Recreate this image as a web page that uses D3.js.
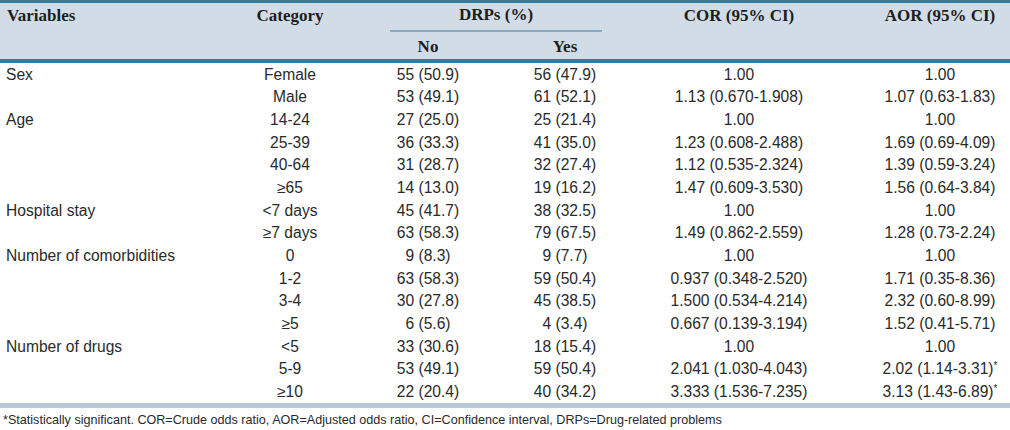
<!DOCTYPE html>
<html>
<head>
<meta charset="utf-8">
<script src="https://cdn.jsdelivr.net/npm/d3@7"></script>
<style>
  html, body { margin: 0; padding: 0; background: #fff; }
  svg { display: block; }
</style>
</head>
<body>
<svg id="chart" width="1010" height="430"></svg>
<script>
// ---- data ----
const variables = ["Sex", "", "Age", "", "", "", "Hospital stay", "", "Number of comorbidities", "", "", "", "Number of drugs", "", ""];
const categories = ["Female", "Male", "14-24", "25-39", "40-64", "≥65", "<7 days", "≥7 days", "0", "1-2", "3-4", "≥5", "<5", "5-9", "≥10"];
const drpNo  = ["55 (50.9)", "53 (49.1)", "27 (25.0)", "36 (33.3)", "31 (28.7)", "14 (13.0)", "45 (41.7)", "63 (58.3)", "9 (8.3)", "63 (58.3)", "30 (27.8)", "6 (5.6)", "33 (30.6)", "53 (49.1)", "22 (20.4)"];
const drpYes = ["56 (47.9)", "61 (52.1)", "25 (21.4)", "41 (35.0)", "32 (27.4)", "19 (16.2)", "38 (32.5)", "79 (67.5)", "9 (7.7)", "59 (50.4)", "45 (38.5)", "4 (3.4)", "18 (15.4)", "59 (50.4)", "40 (34.2)"];
const cor = ["1.00", "1.13 (0.670-1.908)", "1.00", "1.23 (0.608-2.488)", "1.12 (0.535-2.324)", "1.47 (0.609-3.530)", "1.00", "1.49 (0.862-2.559)", "1.00", "0.937 (0.348-2.520)", "1.500 (0.534-4.214)", "0.667 (0.139-3.194)", "1.00", "2.041 (1.030-4.043)", "3.333 (1.536-7.235)"];
const aor = ["1.00", "1.07 (0.63-1.83)", "1.00", "1.69 (0.69-4.09)", "1.39 (0.59-3.24)", "1.56 (0.64-3.84)", "1.00", "1.28 (0.73-2.24)", "1.00", "1.71 (0.35-8.36)", "2.32 (0.60-8.99)", "1.52 (0.41-5.71)", "1.00", "2.02 (1.14-3.31)", "3.13 (1.43-6.89)"];
const significant = [false, false, false, false, false, false, false, false, false, false, false, false, false, true, true];
const headers = ["Variables", "Category", "DRPs (%)", "COR (95% CI)", "AOR (95% CI)"];
const subHeaders = ["No", "Yes"];
const footnote = "*Statistically significant. COR=Crude odds ratio, AOR=Adjusted odds ratio, CI=Confidence interval, DRPs=Drug-related problems";

// ---- layout ----
const W = 1010, H = 430;
const teal = "#367b9e", headBg = "#d2dce6", bottomLine = "#b8c8d7";
const bodyFont = "'Liberation Sans', Arial, Helvetica, sans-serif";
const headFont = "'Liberation Serif', 'Times New Roman', serif";
const textColor = "#2a2a2a";

const svg = d3.select("#chart");

const colX = d3.scaleOrdinal()
  .domain(["category", "no", "yes", "drp", "cor", "aor"])
  .range([290, 428, 565, 496, 739, 940]);

const rowY = d3.scaleBand()
  .domain(d3.range(categories.length))
  .range([63, 403]);

// header background & lines
svg.append("rect").attr("x", 0).attr("y", 0).attr("width", W).attr("height", 62).attr("fill", headBg);
svg.append("rect").attr("x", 0).attr("y", 0).attr("width", W).attr("height", 3).attr("fill", teal);
svg.append("rect").attr("x", 0).attr("y", 59).attr("width", W).attr("height", 4).attr("fill", teal);
svg.append("line").attr("x1", 390).attr("x2", 602).attr("y1", 31).attr("y2", 31)
  .attr("stroke", teal).attr("stroke-width", 1.2);

const hdr = svg.append("g")
  .attr("font-family", headFont).attr("font-weight", "bold").attr("font-size", 17).attr("fill", "#1e1e1e");
hdr.append("text").attr("x", 7).attr("y", 21).text(headers[0]);
hdr.append("text").attr("x", colX("category")).attr("y", 21).attr("text-anchor", "middle").text(headers[1]);
hdr.append("text").attr("x", colX("drp")).attr("y", 20).attr("text-anchor", "middle").text(headers[2]);
hdr.append("text").attr("x", colX("cor")).attr("y", 21).attr("text-anchor", "middle").text(headers[3]);
hdr.append("text").attr("x", colX("aor")).attr("y", 21).attr("text-anchor", "middle").text(headers[4]);
hdr.append("text").attr("x", colX("no")).attr("y", 52).attr("text-anchor", "middle").text(subHeaders[0]);
hdr.append("text").attr("x", colX("yes")).attr("y", 52).attr("text-anchor", "middle").text(subHeaders[1]);

// body rows
const body = svg.append("g")
  .attr("font-family", bodyFont).attr("font-size", 15.6).attr("fill", textColor);

const rows = body.selectAll("g.row").data(d3.range(categories.length)).join("g")
  .attr("class", "row")
  .attr("transform", i => `translate(0,${rowY(i) + rowY.bandwidth() / 2})`);

rows.append("text").attr("x", 6).attr("dy", "0.35em").text(i => variables[i]);
rows.append("text").attr("x", colX("category")).attr("dy", "0.35em").attr("text-anchor", "middle").text(i => categories[i]);
rows.append("text").attr("x", colX("no")).attr("dy", "0.35em").attr("text-anchor", "middle").text(i => drpNo[i]);
rows.append("text").attr("x", colX("yes")).attr("dy", "0.35em").attr("text-anchor", "middle").text(i => drpYes[i]);
rows.append("text").attr("x", colX("cor")).attr("dy", "0.35em").attr("text-anchor", "middle").text(i => cor[i]);
rows.each(function(i) {
  const t = d3.select(this).append("text").attr("x", colX("aor")).attr("dy", "0.35em").attr("text-anchor", "middle");
  t.append("tspan").text(aor[i]);
  if (significant[i]) {
    t.append("tspan").attr("font-size", 10).attr("dy", "-0.55em").text("*");
  }
});

// bottom line
svg.append("rect").attr("x", 0).attr("y", 403).attr("width", W).attr("height", 5).attr("fill", bottomLine);

// footnote
svg.append("text").attr("x", 3).attr("y", 424)
  .attr("font-family", bodyFont).attr("font-size", 12.6).attr("fill", textColor)
  .text(footnote);
</script>
</body>
</html>
